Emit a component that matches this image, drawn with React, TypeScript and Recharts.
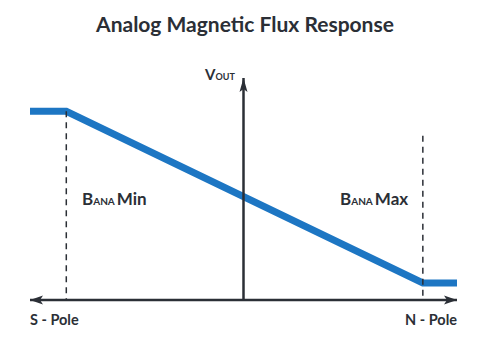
import React from "react";
import { LineChart, Line, XAxis, YAxis, ReferenceLine, ReferenceDot } from "recharts";

// Field strength (S-pole = -100 ... N-pole = +100)
const fieldB = [-100, -83, 84, 100];
// Output voltage (relative, 0..100)
const vout = [85, 85, 7.7, 7.7];
const bAnaMin = -83;
const bAnaMax = 84;
const dashTopMin = 85;
const dashTopMax = 74;

const data = fieldB.map((b, i) => ({ b, v: vout[i] }));

const INK = "#2b2f36";
const BLUE = "#1d76c3";
const FONT = "Lato, 'Open Sans', sans-serif";

const arrowLeft = (p: any) => (
  <path d={`M${p.cx},${p.cy} L${p.cx + 13},${p.cy - 4.5} L${p.cx + 10},${p.cy} L${p.cx + 13},${p.cy + 4.5} Z`} fill={INK} />
);
const arrowRight = (p: any) => (
  <path d={`M${p.cx},${p.cy} L${p.cx - 13},${p.cy - 4.5} L${p.cx - 10},${p.cy} L${p.cx - 13},${p.cy + 4.5} Z`} fill={INK} />
);
const arrowUp = (p: any) => (
  <path d={`M${p.cx},${p.cy} L${p.cx - 4},${p.cy + 14} L${p.cx},${p.cy + 11} L${p.cx + 4},${p.cy + 14} Z`} fill={INK} />
);

export default function App() {
  return (
    <div style={{ position: "absolute", left: 0, top: 0, width: 488, height: 356, background: "#fff" }}>
      <LineChart
        width={488}
        height={356}
        data={data}
        margin={{ top: 78, right: 31, bottom: 56, left: 30 }}
      >
        <XAxis dataKey="b" type="number" domain={[-100, 100]} hide />
        <YAxis type="number" domain={[0, 100]} hide />
        <Line
          type="linear"
          dataKey="v"
          stroke={BLUE}
          strokeWidth={7}
          strokeLinejoin="miter"
          strokeLinecap="butt"
          dot={false}
          activeDot={false}
          isAnimationActive={false}
        />
        <ReferenceLine
          segment={[{ x: bAnaMin, y: dashTopMin }, { x: bAnaMin, y: 0 }]}
          stroke={INK}
          strokeWidth={1.5}
          strokeDasharray="6 5"
          ifOverflow="visible"
        />
        <ReferenceLine
          segment={[{ x: bAnaMax, y: dashTopMax }, { x: bAnaMax, y: 0 }]}
          stroke={INK}
          strokeWidth={1.5}
          strokeDasharray="6 5"
          ifOverflow="visible"
        />
        <ReferenceLine y={0} stroke={INK} strokeWidth={2.5} ifOverflow="visible" />
        <ReferenceLine x={0} stroke={INK} strokeWidth={2.5} ifOverflow="visible" />
        <ReferenceDot x={-100} y={0} r={0} ifOverflow="visible" shape={arrowLeft} />
        <ReferenceDot x={100} y={0} r={0} ifOverflow="visible" shape={arrowRight} />
        <ReferenceDot x={0} y={100} r={0} ifOverflow="visible" shape={arrowUp} />
        <text x={245} y={32} textAnchor="middle" fontFamily={FONT} fontWeight={700} fontSize={21} fill={INK}>
          Analog Magnetic Flux Response
        </text>
        <text x={205} y={80} fontFamily={FONT} fontWeight={700} fontSize={15} fill={INK}>
          V<tspan fontSize={9}>OUT</tspan>
        </text>
        <text x={82} y={205} fontFamily={FONT} fontWeight={700} fontSize={17} fill={INK}>
          B<tspan fontSize={10}>ANA</tspan>
          <tspan dx={2}>Min</tspan>
        </text>
        <text x={340} y={205} fontFamily={FONT} fontWeight={700} fontSize={17} fill={INK}>
          B<tspan fontSize={10}>ANA</tspan>
          <tspan dx={2}>Max</tspan>
        </text>
        <text x={30} y={325} fontFamily={FONT} fontWeight={700} fontSize={14.5} fill={INK}>
          S - Pole
        </text>
        <text x={457} y={325} textAnchor="end" fontFamily={FONT} fontWeight={700} fontSize={14.5} fill={INK}>
          N - Pole
        </text>
      </LineChart>
    </div>
  );
}
